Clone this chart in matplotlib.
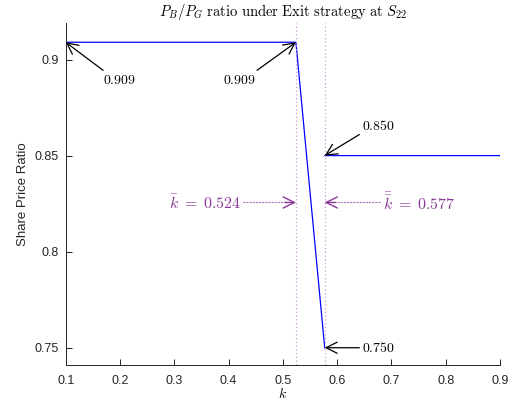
import numpy as np
import matplotlib.pyplot as plt

plt.rcParams['mathtext.fontset'] = 'cm'
plt.rcParams['font.family'] = ['Liberation Sans', 'DejaVu Sans']

# datos de la curva (NaN separa los dos tramos)
k = [0.1, 0.524, 0.577, np.nan, 0.577, 0.9]
ratio = [0.909, 0.909, 0.750, np.nan, 0.850, 0.850]

k_bar = 0.524
k_dbar = 0.577
x_ticks = [0.1, 0.2, 0.3, 0.4, 0.5, 0.6, 0.7, 0.8, 0.9]
y_ticks = [0.75, 0.8, 0.85, 0.9]

purple = '#8a3a98'

fig = plt.figure(figsize=(5.15, 4.04), dpi=100)
ax = fig.add_axes([0.1276, 0.0965, 0.8434, 0.8465])

ax.plot(k, ratio, color='blue', linewidth=0.9)
ax.axvline(k_bar, color='#c99ad4', linestyle=(0, (1, 2)), linewidth=0.9)
ax.axvline(k_dbar, color='#c99ad4', linestyle=(0, (1, 2)), linewidth=0.9)

# etiquetas de valores
head = '->,head_length=0.5,head_width=0.25'
arrow = dict(arrowstyle=head, color='black', linewidth=0.9, shrinkA=0, shrinkB=0,
             mutation_scale=16)
ax.annotate(r'$0.909$', xy=(k[0], ratio[0]), xytext=(0.2, 0.8893), fontsize=10,
            ha='center', va='center', arrowprops=dict(arrow, relpos=(0.1, 1.0)))
ax.annotate(r'$0.909$', xy=(k[1], ratio[1]), xytext=(0.421, 0.8893), fontsize=10,
            ha='center', va='center', arrowprops=dict(arrow, relpos=(0.9, 1.0)))
ax.annotate(r'$0.850$', xy=(k[4], ratio[4]), xytext=(0.646, 0.8655), fontsize=10,
            ha='left', va='center', arrowprops=dict(arrow, relpos=(0.0, 0.0)))
ax.annotate(r'$0.750$', xy=(k[2], ratio[2]), xytext=(0.646, 0.750), fontsize=10,
            ha='left', va='center', arrowprops=dict(arrow, relpos=(0.0, 0.5)))

# umbrales k: tramo punteado + punta sólida
y_mark = 0.8256
ax.annotate(r'$\bar{k}\;=\;0.524$', xy=(k_bar, y_mark), xytext=(0.3565, y_mark),
            fontsize=11.5, color=purple, ha='center', va='center',
            arrowprops=dict(arrowstyle='-', color='#b47cc2', linewidth=0.9,
                            linestyle=(0, (1, 1.5)), shrinkA=0, shrinkB=0,
                            relpos=(1.0, 0.5)))
ax.annotate(r'$\bar{\bar{k}}\;=\;0.577$', xy=(k_dbar, y_mark), xytext=(0.7505, y_mark),
            fontsize=11.5, color=purple, ha='center', va='center',
            arrowprops=dict(arrowstyle='-', color='#b47cc2', linewidth=0.9,
                            linestyle=(0, (1, 1.5)), shrinkA=0, shrinkB=0,
                            relpos=(0.0, 0.5)))
parrow = dict(arrowstyle=head, color=purple, linewidth=1.0, shrinkA=0, shrinkB=0,
              mutation_scale=16)
ax.annotate('', xy=(k_bar, y_mark), xytext=(k_bar - 0.02, y_mark), arrowprops=parrow)
ax.annotate('', xy=(k_dbar, y_mark), xytext=(k_dbar + 0.02, y_mark), arrowprops=parrow)

ax.set_xlim(0.1, 0.9)
ax.set_ylim(0.741, 0.919)
ax.set_xticks(x_ticks)
ax.set_xticklabels(['0.1', '0.2', '0.3', '0.4', '0.5', '0.6', '0.7', '0.8', '0.9'])
ax.set_yticks(y_ticks)
ax.set_yticklabels(['0.75', '0.8', '0.85', '0.9'])
ax.tick_params(direction='in', length=4, width=0.7, labelsize=9, colors='#262626')
ax.tick_params(axis='x', pad=7)
ax.tick_params(axis='y', pad=5)
ax.spines['top'].set_visible(False)
ax.spines['right'].set_visible(False)
for s in ['left', 'bottom']:
    ax.spines[s].set_color('#262626')
    ax.spines[s].set_linewidth(0.7)

ax.set_title(r'$P_B/P_G\ \mathrm{ratio\ under\ Exit\ strategy\ at}\ S_{22}$', fontsize=10.5, pad=5)
ax.set_xlabel(r'$k$', fontsize=10, labelpad=0)
ax.set_ylabel('Share Price Ratio', fontsize=9.5, color='#262626', labelpad=4)

fig.savefig('out.png', dpi=100)
